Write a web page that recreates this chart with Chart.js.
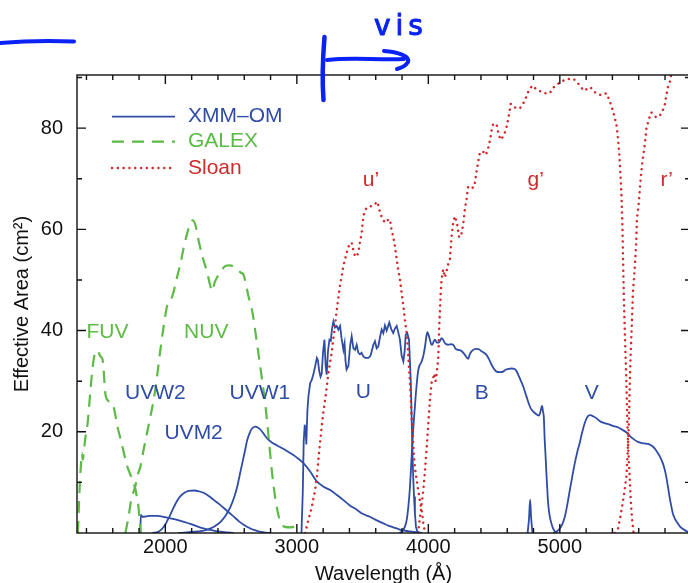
<!DOCTYPE html>
<html>
<head>
<meta charset="utf-8">
<script src="https://cdn.jsdelivr.net/npm/chart.js"></script>
<style>
  html, body { margin: 0; padding: 0; background: #fff; overflow: hidden; }
  #wrap { width: 692px; height: 583px; position: relative; }
</style>
</head>
<body>
<div id="wrap"><canvas id="c"></canvas></div>
<script>
// ---- Effective area curves: [wavelength (Å), effective area (cm²)] ----

// XMM-Newton Optical Monitor filters
const uvw2 = [[1810,0],[1813,3.6],[1818,3.5],[1826,3.2],[1880,3.4],[1940,3.4],[1990,3.2],[2040,2.9],[2090,2.6],[2142,2.2],[2190,1.8],[2243,1.3],[2290,0.9],[2344,0.6],[2400,0.3],[2446,0.15],[2520,0]];
const uvm2 = [[1900,0],[1950,0.3],[1990,1.3],[2030,3.2],[2066,5.2],[2100,6.8],[2142,7.9],[2180,8.3],[2218,8.4],[2260,8.2],[2294,7.9],[2330,7.3],[2370,6.5],[2410,5.7],[2446,4.9],[2485,4.0],[2522,3.2],[2560,2.3],[2598,1.6],[2640,1.0],[2674,0.6],[2710,0.3],[2750,0.1],[2800,0]];
const uvw1 = [[2100,0],[2243,0.3],[2300,0.5],[2344,0.9],[2380,1.4],[2420,2.2],[2460,3.5],[2496,5.2],[2525,7.2],[2547,9.2],[2566,11.5],[2585,13.8],[2605,16.2],[2623,18.4],[2645,20.0],[2661,20.7],[2686,21.0],[2705,20.8],[2724,20.4],[2750,19.5],[2774,18.7],[2810,17.9],[2850,17.3],[2900,16.6],[2949,15.8],[3000,14.9],[3050,13.8],[3100,12.2],[3152,10.2],[3200,9.2],[3253,8.5],[3300,7.6],[3354,6.5],[3400,5.5],[3456,4.6],[3500,3.8],[3557,3.2],[3600,2.6],[3658,1.9],[3700,1.4],[3759,0.9],[3810,0.5],[3860,0.3],[3950,0]];
const uFilter = [[3035,0],[3045,8],[3052,18],[3060,21.4],[3068,19.7],[3072,17.5],[3080,24],[3088,27],[3101,29.6],[3114,30.3],[3127,31.5],[3139,32.9],[3152,34.6],[3160,34.2],[3170,32],[3180,30.9],[3189,31.5],[3200,36],[3210,38.2],[3219,33],[3227,31.3],[3237,36],[3248,38.2],[3258,38],[3268,40.5],[3278,41.8],[3290,40.6],[3303,40.9],[3316,40.2],[3329,40.9],[3340,38.5],[3354,36.2],[3363,37.5],[3370,34],[3378,32.3],[3392,33],[3405,37],[3417,38.9],[3430,36.5],[3443,36.2],[3455,37.2],[3468,35.6],[3480,35.3],[3492,35.6],[3506,34.9],[3520,34.6],[3544,34.6],[3560,35],[3570,36],[3582,37.2],[3594,37.9],[3607,36.5],[3620,36.9],[3633,38.8],[3645,40.2],[3658,39.5],[3670,41],[3683,40],[3703,41.6],[3718,40.3],[3733,39.5],[3746,40.4],[3759,40.9],[3772,39.6],[3784,38.2],[3797,35],[3810,33.9],[3820,36],[3828,39.2],[3840,39.5],[3853,38.2],[3866,30.3],[3872,24],[3878,17.1],[3885,11],[3891,7.2],[3898,3.8],[3906,1.2],[3916,0.3],[3930,0]];
const bFilter = [[3780,0],[3810,0.6],[3835,2.5],[3848,5.2],[3860,9],[3873,15.1],[3885,20.5],[3898,25],[3910,29],[3924,32.3],[3949,33.9],[3962,35],[3975,36.9],[3985,38.8],[3993,39.7],[4003,39],[4012,38.2],[4022,37.3],[4030,37.2],[4040,37.8],[4050,38.2],[4062,37.7],[4075,37.6],[4090,38.0],[4100,38.5],[4114,38.1],[4130,37.4],[4151,37.2],[4170,37.3],[4189,37.2],[4208,36.4],[4227,36.2],[4250,36.0],[4278,35.2],[4303,34.4],[4315,35.3],[4329,35.9],[4350,36.3],[4367,36.4],[4385,36.3],[4404,35.9],[4425,35.6],[4442,35.2],[4460,34.4],[4480,33.3],[4500,32.4],[4518,31.9],[4545,31.8],[4569,31.9],[4590,32.3],[4607,32.4],[4630,32.5],[4657,32.4],[4670,32],[4683,31.3],[4700,30.3],[4721,29],[4746,27],[4772,25],[4790,24.2],[4810,23.7],[4842,23.2],[4852,23.9],[4865,25.1],[4872,24],[4878,23],[4885,18.4],[4892,15],[4898,11.8],[4905,8.5],[4911,5.9],[4922,3.5],[4936,1.9],[4950,0.8],[4965,0.2],[4980,0]];
const vLeak = [[4755,0],[4766,3],[4774,6.6],[4782,3],[4792,0]];
const vFilter = [[4949,0],[4975,0.3],[5000,0.9],[5020,1.8],[5038,3.2],[5057,5.6],[5076,8.5],[5095,11.2],[5114,13.8],[5132,15.9],[5151,17.8],[5170,19.9],[5189,21.7],[5205,22.7],[5219,23.2],[5235,23.3],[5250,23.1],[5277,22.7],[5300,22.2],[5328,21.8],[5355,21.6],[5379,21.4],[5410,21.1],[5442,20.9],[5475,20.4],[5505,19.9],[5535,19.1],[5569,18.4],[5595,18.0],[5619,17.8],[5645,17.7],[5670,17.6],[5690,17.4],[5707,17.1],[5725,16.6],[5745,15.8],[5765,14.9],[5783,13.8],[5797,12.6],[5809,11.2],[5822,9.2],[5834,7.2],[5847,5.4],[5859,3.9],[5878,2.7],[5897,1.9],[5920,1.1],[5948,0.6],[5975,0.2],[5995,0.1]];

// GALEX bands
const fuv = [[1335,0],[1342,5],[1350,10],[1358,13.5],[1366,15.8],[1372,14.5],[1378,15.5],[1390,18.5],[1408,21.5],[1420,25],[1433,29],[1446,32.5],[1459,34.9],[1470,35.8],[1479,36.1],[1490,35.8],[1500,35.2],[1510,34.8],[1520,34.5],[1530,32.5],[1540,28.5],[1547,27],[1560,26.3],[1572,26],[1598,25.7],[1618,23.5],[1636,21],[1655,19],[1673,17.1],[1692,15],[1711,13.1],[1730,11.8],[1749,10.5],[1762,9.5],[1774,8.5],[1785,6.8],[1795,5.2],[1803,2.8],[1812,0]];
const nuv = [[1696,0],[1720,3.2],[1740,6.5],[1772,9.3],[1790,11.5],[1810,13.1],[1835,16.5],[1861,19.8],[1886,23],[1911,26.3],[1937,31],[1962,36.2],[1988,41],[2013,44.8],[2053,46.8],[2091,50.8],[2116,53.4],[2142,56.7],[2167,59.3],[2192,61.3],[2210,61.8],[2230,60.7],[2256,57.4],[2281,54.7],[2319,51.4],[2340,49],[2357,47.8],[2375,49.5],[2400,50.8],[2433,52.1],[2460,52.8],[2491,52.9],[2520,52.6],[2550,52.0],[2575,51.4],[2593,51.1],[2610,49.5],[2630,47],[2650,45],[2663,43.5],[2686,39.5],[2711,34.9],[2737,30],[2762,25],[2787,18.4],[2812,11.8],[2838,6.5],[2863,3.2],[2885,1.8],[2910,1.2],[2950,1.1],[2976,1.2],[3000,1.6],[3005,2.2]];

// Sloan filters
const uPrime = [[3063,0],[3088,2.6],[3114,5.2],[3139,8.5],[3152,11],[3164,14.5],[3177,18],[3189,21],[3202,24],[3215,26.3],[3228,29],[3240,31.6],[3253,33.8],[3265,35.6],[3278,38.5],[3291,41.2],[3303,44],[3316,46.5],[3329,49],[3341,50.8],[3354,52.8],[3367,54.1],[3383,55.8],[3399,57],[3417,57.4],[3430,55.8],[3443,54.7],[3455,54.6],[3468,55.4],[3480,57.5],[3493,59.3],[3506,62.6],[3518,63.6],[3531,64.3],[3550,64.5],[3569,64.6],[3594,64.9],[3607,65.5],[3620,64.8],[3632,63.3],[3648,62.3],[3670,61.3],[3690,61.8],[3708,62],[3720,60],[3733,58.5],[3746,56.7],[3759,54.1],[3771,52],[3784,50.1],[3797,47.5],[3810,44.8],[3822,42],[3835,39.5],[3844,36.5],[3853,32.9],[3860,30],[3866,27],[3872,23.5],[3878,20.4],[3885,17.5],[3891,15.1],[3900,12.5],[3911,10.5],[3921,8.7],[3931,7.2],[3940,5.8],[3949,4.6],[3956,3.2],[3962,1.9],[3970,0.8],[3975,0.3]];
const gPrime = [[3921,0],[3944,4.6],[3962,8.5],[3975,12.5],[3986,16.4],[3998,21],[4012,26.3],[4025,29.7],[4038,30.7],[4045,31.5],[4055,30],[4063,31.5],[4075,34.3],[4083,40.9],[4094,47.5],[4101,50.1],[4108,51.5],[4114,52.1],[4125,50.5],[4135,51.2],[4150,53],[4164,54.1],[4177,58.7],[4189,61.3],[4202,62.6],[4219,61],[4234,58.5],[4248,58.5],[4265,61],[4278,64],[4291,66],[4303,68.5],[4316,68.5],[4341,68.2],[4354,69.2],[4371,72.2],[4392,75.2],[4415,75.4],[4437,74.7],[4455,76],[4468,77.5],[4481,79.5],[4493,80.8],[4519,80.8],[4531,79.2],[4549,77.7],[4574,78.5],[4594,80.1],[4607,81.8],[4627,84.8],[4658,84.1],[4696,83.9],[4734,85.4],[4754,86.9],[4789,88.4],[4822,87.7],[4878,86.9],[4923,86.9],[4954,88.1],[4999,89],[5050,89.7],[5106,89.7],[5144,88.7],[5182,87.4],[5232,88.1],[5273,86.9],[5316,86.5],[5354,86.9],[5379,85.4],[5404,83.4],[5430,80.8],[5443,77.8],[5455,73.9],[5468,67.3],[5476,60.7],[5481,54.1],[5486,47.5],[5493,40.9],[5500,34.9],[5508,28],[5514,21.7],[5520,17],[5531,11.1],[5538,7.2],[5548,3.2],[5561,0]];
const rPrime = [[5418,0],[5443,0.9],[5461,3.2],[5486,7.2],[5506,11.1],[5516,16],[5522,19.5],[5525,21.7],[5531,28.3],[5538,34.9],[5548,41.5],[5556,47.5],[5569,52.1],[5581,57.4],[5586,62],[5601,65.3],[5612,69.2],[5627,73.2],[5645,76.5],[5658,79.8],[5677,81.8],[5696,83.1],[5715,82.6],[5733,82.1],[5752,82.4],[5771,82.8],[5797,84.4],[5809,86.3],[5822,88.1],[5840,89.4],[5860,93]];

// Axis ticks
const xTickLabels = [2000, 3000, 4000, 5000];
const yTickLabels = [20, 40, 60, 80];

// Band names placed at (wavelength, area)
const bandLabels = [
  { text: 'FUV',  wave: 1560, area: 38.6, group: 'galex' },
  { text: 'NUV',  wave: 2311, area: 38.6, group: 'galex' },
  { text: 'UVW2', wave: 1924, area: 26.5, group: 'xmm' },
  { text: 'UVW1', wave: 2719, area: 26.5, group: 'xmm' },
  { text: 'UVM2', wave: 2215, area: 18.6, group: 'xmm' },
  { text: 'U',    wave: 3506, area: 26.7, group: 'xmm' },
  { text: 'B',    wave: 4407, area: 26.5, group: 'xmm' },
  { text: 'V',    wave: 5242, area: 26.5, group: 'xmm' },
  { text: 'u\u2019', wave: 3564, area: 68.6, group: 'sloan' },
  { text: 'g\u2019', wave: 4817, area: 68.6, group: 'sloan' },
  { text: 'r\u2019', wave: 5812, area: 68.6, group: 'sloan' }
];

// ---- Styling ----
const FONT = '"Liberation Sans", Arial, Helvetica, sans-serif';
const groups = {
  xmm:   { name: 'XMM\u2013OM', color: '#2f4ca6', width: 1.8, dash: [],          cap: 'butt' },
  galex: { name: 'GALEX',      color: '#5bbb45', width: 2.2, dash: [12, 8],      cap: 'butt' },
  sloan: { name: 'Sloan',      color: '#d2292b', width: 2.5, dash: [0.01, 5.8],  cap: 'round' }
};

function curve(points, group, smooth) {
  const g = groups[group];
  return {
    label: g.name,
    group: group,
    data: points.map(([x, y]) => ({ x, y })),
    borderColor: g.color,
    borderWidth: g.width,
    borderDash: g.dash,
    borderCapStyle: g.cap,
    pointRadius: 0,
    fill: false,
    tension: 0,
    cubicInterpolationMode: smooth ? 'monotone' : 'default'
  };
}

const datasets = [
  curve(fuv, 'galex', true),
  curve(nuv, 'galex', true),
  curve(uPrime, 'sloan', false),
  curve(gPrime, 'sloan', false),
  curve(rPrime, 'sloan', false),
  curve(uvw2, 'xmm', true),
  curve(uvm2, 'xmm', true),
  curve(uvw1, 'xmm', true),
  curve(uFilter, 'xmm', false),
  curve(bFilter, 'xmm', true),
  curve(vLeak, 'xmm', true),
  curve(vFilter, 'xmm', true)
];

// Inward tick marks on all four sides plus the plot frame
const frameTicks = {
  id: 'frameTicks',
  afterDatasetsDraw(chart) {
    const { ctx, chartArea: a, scales: { x, y } } = chart;
    ctx.save();
    ctx.strokeStyle = '#111';
    ctx.lineWidth = 1.4;
    ctx.setLineDash([]);
    ctx.beginPath();
    for (let w = Math.ceil(x.min / 200) * 200; w <= x.max; w += 200) {
      const px = x.getPixelForValue(w);
      const len = (w % 1000 === 0) ? 9 : 5;
      ctx.moveTo(px, a.bottom); ctx.lineTo(px, a.bottom - len);
      ctx.moveTo(px, a.top); ctx.lineTo(px, a.top + len);
    }
    for (let v = 10; v < y.max; v += 10) {
      const py = y.getPixelForValue(v);
      const len = (v % 20 === 0) ? 9 : 5;
      ctx.moveTo(a.left, py); ctx.lineTo(a.left + len, py);
      ctx.moveTo(a.right, py); ctx.lineTo(a.right - len, py);
    }
    ctx.stroke();
    ctx.strokeRect(a.left, a.top, a.right - a.left, a.bottom - a.top);
    ctx.restore();
  }
};

// Band names and the legend inside the plot
const plotText = {
  id: 'plotText',
  afterDatasetsDraw(chart) {
    const { ctx, chartArea: a, scales: { x, y } } = chart;
    ctx.save();
    ctx.font = '21px ' + FONT;
    ctx.textAlign = 'center';
    ctx.textBaseline = 'alphabetic';
    bandLabels.forEach(l => {
      ctx.fillStyle = groups[l.group].color;
      ctx.fillText(l.text, x.getPixelForValue(l.wave), y.getPixelForValue(l.area));
    });

    const keys = ['xmm', 'galex', 'sloan'];
    const rowY = [41.7, 66.7, 93];
    keys.forEach((k, i) => {
      const g = groups[k];
      const yy = a.top + rowY[i];
      ctx.beginPath();
      ctx.strokeStyle = g.color;
      ctx.lineWidth = g.width;
      ctx.lineCap = g.cap;
      ctx.setLineDash(g.dash);
      ctx.moveTo(a.left + 35, yy);
      ctx.lineTo(a.left + 98, yy);
      ctx.stroke();
      ctx.setLineDash([]);
      ctx.fillStyle = g.color;
      ctx.textAlign = 'left';
      ctx.textBaseline = 'middle';
      ctx.fillText(g.name, a.left + 111, yy);
    });
    ctx.restore();
  }
};

// Hand-drawn marker for the visible band, above the plot
const visMarker = {
  id: 'visMarker',
  afterDraw(chart) {
    const ctx = chart.ctx;
    ctx.save();
    ctx.strokeStyle = '#0b22f5';
    ctx.fillStyle = '#0b22f5';
    ctx.lineCap = 'round';
    ctx.lineJoin = 'round';
    ctx.lineWidth = 4;
    ctx.beginPath();
    ctx.moveTo(0, 43);
    ctx.quadraticCurveTo(35, 40, 74, 41.5);
    ctx.stroke();
    ctx.lineWidth = 4.5;
    ctx.beginPath();
    ctx.moveTo(324.5, 37);
    ctx.bezierCurveTo(323, 55, 322, 80, 323.5, 100);
    ctx.stroke();
    ctx.lineWidth = 4;
    ctx.beginPath();
    ctx.moveTo(327, 60);
    ctx.bezierCurveTo(350, 57, 375, 60, 404, 59);
    ctx.stroke();
    ctx.beginPath();
    ctx.moveTo(384, 51);
    ctx.bezierCurveTo(398, 52, 410, 56, 408, 62);
    ctx.quadraticCurveTo(405, 67, 397, 69);
    ctx.stroke();
    ctx.font = '28px "DejaVu Sans", sans-serif';
    ctx.letterSpacing = '5px';
    ctx.textAlign = 'left';
    ctx.textBaseline = 'alphabetic';
    ctx.lineWidth = 1;
    ctx.fillText('vis', 374, 35);
    ctx.strokeText('vis', 374, 35);
    ctx.restore();
  }
};

Chart.defaults.font.family = FONT;
Chart.defaults.color = '#111';

new Chart(document.getElementById('c'), {
  type: 'line',
  data: { datasets },
  options: {
    responsive: true,
    maintainAspectRatio: false,
    animation: false,
    events: [],
    layout: { padding: { top: 75, right: 2, left: 0, bottom: 0 } },
    plugins: { legend: { display: false }, tooltip: { enabled: false } },
    scales: {
      x: {
        type: 'linear',
        min: 1328,
        max: 5990,
        afterBuildTicks: s => { s.ticks = xTickLabels.map(v => ({ value: v })); },
        afterFit: s => { s.height = 50; },
        grid: { display: false, drawTicks: false },
        border: { display: false },
        ticks: { padding: 2, font: { size: 20 }, color: '#111', callback: v => String(v), maxRotation: 0 },
        title: { display: true, text: 'Wavelength (\u00C5)', font: { size: 20 }, color: '#111', padding: { top: 0, bottom: -3 } }
      },
      y: {
        type: 'linear',
        min: 0,
        max: 90.5,
        afterBuildTicks: s => { s.ticks = yTickLabels.map(v => ({ value: v })); },
        afterFit: s => { s.width = 77; },
        grid: { display: false, drawTicks: false },
        border: { display: false },
        ticks: { padding: 14, font: { size: 20 }, color: '#111' },
        title: { display: true, text: 'Effective Area (cm\u00B2)', font: { size: 20 }, color: '#111', padding: { top: 10, bottom: 0 } }
      }
    }
  },
  plugins: [frameTicks, plotText, visMarker]
});
</script>
</body>
</html>
